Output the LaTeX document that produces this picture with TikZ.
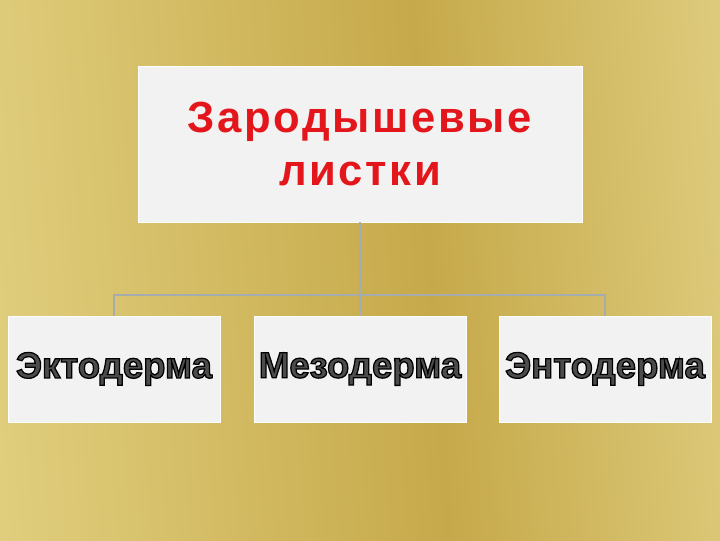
\documentclass[tikz,border=0pt]{standalone}
\usepackage{fontspec}
\setmainfont{Liberation Sans}
\definecolor{boxfill}{HTML}{F2F2F2}
\definecolor{linkgray}{HTML}{A4ACAE}
\definecolor{titlered}{HTML}{E3161B}
\definecolor{goldA}{HTML}{E2D596}
\definecolor{goldB}{HTML}{E3D283}
\definecolor{goldC}{HTML}{C6A94A}
\definecolor{goldD}{HTML}{E3D388}
\definecolor{goldE}{HTML}{D9C474}
\pgfdeclarehorizontalshading{goldbg}{100bp}{
    color(0bp)=(goldA);
    color(20bp)=(goldB);
    color(55bp)=(goldC);
    color(82bp)=(goldD);
    color(100bp)=(goldE)}
\newcommand{\outlined}[1]{\special{pdf:literal 2 Tr 0.9 w 0 G}#1\special{pdf:literal 0 Tr}}
\begin{document}
\begin{tikzpicture}[x=0.025cm, y=-0.025cm,
        topbox/.style={rectangle, draw=white, line width=0.6pt, fill=boxfill, minimum width=11.1cm, minimum height=3.9cm, text width=10.5cm, align=center, font=\fontsize{31}{37}\selectfont\bfseries\addfontfeatures{LetterSpace=6}, text=titlered},
        layerbox/.style={rectangle, draw=white, line width=0.6pt, fill=boxfill, inner sep=1pt, minimum width=5.3cm, minimum height=2.65cm, font=\fontsize{26}{31}\selectfont\bfseries, text=black!70},
        link/.style={draw=linkgray, line width=1.4pt}
    ]
        % Background
        \useasboundingbox (0,0) rectangle (720,540);
        \shade[shading=goldbg, shading angle=4] (0,0) rectangle (720,540);

        % Central box
        \node[topbox] (leaves) at (360,144) {Зародышевые\\листки};

        % Germ layers
        \node[layerbox] (ecto) at (114,369) {\outlined{Эктодерма}};
        \node[layerbox] (meso) at (360,369) {\outlined{Мезодерма}};
        \node[layerbox] (endo) at (605,369) {\outlined{Энтодерма}};

        % Connect boxes
        \coordinate (fork) at (360,295);
        \draw[link] (leaves.south) -- (fork);
        \draw[link] (fork) -| (ecto.north);
        \draw[link] (fork) -- (meso.north);
        \draw[link] (fork) -| (endo.north);
    \end{tikzpicture}
\end{document}
